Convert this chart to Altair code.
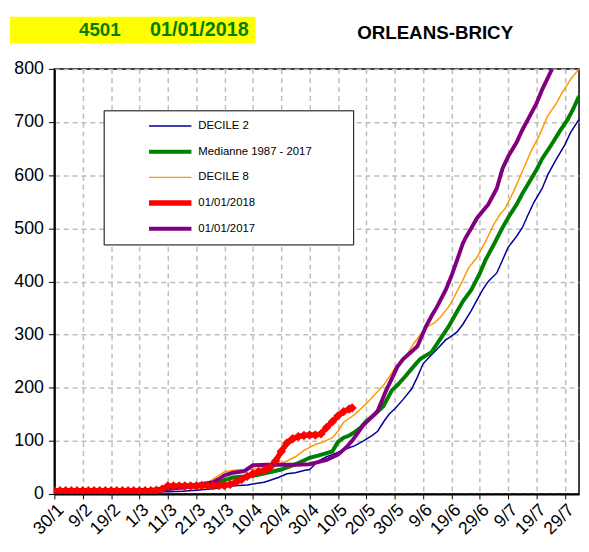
import altair as alt
import pandas as pd

# ---------------- data ----------------
x_labels = ['30/1', '9/2', '19/2', '1/3', '11/3', '21/3', '31/3', '10/4', '20/4',
            '30/4', '10/5', '20/5', '30/5', '9/6', '19/6', '29/6', '9/7', '19/7', '29/7']
x_tick_days = [i * 10 for i in range(len(x_labels))]
y_ticks = [0, 100, 200, 300, 400, 500, 600, 700, 800]

series_names = ['DECILE 2', 'Medianne 1987 - 2017', 'DECILE 8', '01/01/2018', '01/01/2017']
series_colors = ['#000099', '#008000', '#ff9900', '#ff0000', '#800080']
series_widths = [1.5, 4, 1.5, 5.5, 4]

banner_texts = ['4501', '01/01/2018']
station_name = 'ORLEANS-BRICY'

# DECILE 2
d2_days = [0, 10, 20, 30, 40, 45, 50, 56, 62, 68, 74, 79, 82, 85, 88, 90, 93, 96, 98, 103, 106,
           109, 112, 114, 116, 118, 120, 123, 126, 128, 130, 133, 135, 138, 140, 142, 144, 147,
           149, 151, 153, 156, 158, 160, 163, 165, 167, 169, 172, 174, 177, 180, 182, 185]
d2_vals = [1, 1, 2, 3, 4, 5, 7, 10, 15, 17, 22, 31, 38, 40, 44, 46, 62, 70, 74, 85, 91,
           100, 110, 118, 135, 150, 160, 178, 198, 220, 245, 262, 273, 290, 297, 305, 319, 345,
           365, 384, 400, 416, 440, 464, 485, 501, 525, 548, 575, 601, 630, 657, 680, 705]

# Medianne 1987 - 2017
med_days = [0, 10, 20, 30, 40, 45, 50, 55, 58, 60, 63, 67, 71, 75, 80, 83, 86, 90, 93, 96, 98,
            100, 102, 104, 106, 108, 110, 113, 116, 119, 121, 124, 127, 129, 133, 136, 139, 141,
            144, 147, 150, 152, 155, 158, 160, 163, 165, 167, 170, 172, 175, 178, 181, 183, 185]
med_vals = [3, 3, 4, 6, 10, 12, 15, 18, 22, 26, 31, 33, 35, 40, 46, 52, 58, 68, 72, 77, 80,
            98, 106, 110, 117, 125, 137, 150, 165, 195, 205, 223, 242, 254, 267, 291, 315, 334,
            362, 384, 415, 440, 470, 501, 520, 545, 565, 583, 610, 631, 655, 681, 705, 725, 749]

# DECILE 8
d8_days = [0, 10, 20, 30, 40, 45, 50, 53, 56, 58, 60, 64, 68, 72, 76, 79, 82, 85, 88, 92, 95,
           98, 100, 102, 106, 110, 114, 116, 118, 120, 122, 124, 127, 131, 134, 136, 139, 141,
           144, 146, 149, 152, 155, 157, 159, 162, 165, 168, 171, 174, 177, 179, 182, 185]
d8_vals = [5, 5, 6, 8, 12, 14, 16, 17, 28, 35, 42, 45, 46, 48, 52, 56, 62, 70, 82, 93, 98,
           106, 118, 135, 150, 170, 193, 204, 220, 236, 248, 260, 285, 313, 322, 332, 352, 371,
           402, 425, 445, 475, 508, 525, 538, 570, 607, 644, 675, 712, 735, 755, 780, 800]

# 01/01/2018
y18_days = [0, 2, 4, 6, 8, 10, 12, 14, 16, 18, 20, 22, 24, 26, 28, 30, 32, 34, 36, 38, 40, 42,
            44, 46, 48, 50, 52, 54, 56, 58, 60, 62, 64, 66, 68, 70, 72, 74, 76, 78, 80, 82, 84,
            86, 88, 90, 92, 94, 96, 98, 100, 102, 104, 105]
y18_vals = [6, 6, 6, 6, 6, 6, 6, 6, 6, 6, 6, 6, 6, 6, 6, 6, 6, 6, 7, 9, 15, 15,
            15, 15, 15, 15, 16, 16, 16, 16, 16, 18, 22, 27, 33, 38, 42, 44, 50, 62, 80, 96, 104,
            108, 110, 111, 111, 113, 125, 136, 147, 155, 160, 162]

# 01/01/2017
y17_days = [0, 15, 20, 30, 39, 45, 50, 56, 58, 60, 63, 67, 70, 75, 80, 85, 90, 93, 96, 100,
            103, 105, 107, 109, 112, 114, 117, 119, 121, 123, 126, 128, 131, 133, 135, 138, 140,
            142, 144, 145, 147, 149, 151, 153, 156, 158, 160, 163, 165, 167, 170, 172, 175.5]
y17_vals = [1, 2, 4, 6, 9, 12, 17, 22, 28, 35, 40, 43, 54, 55, 55, 55, 56, 60, 64, 74,
            88, 100, 115, 130, 145, 156, 195, 217, 240, 254, 268, 278, 315, 335, 353, 384, 410,
            440, 471, 482, 500, 519, 532, 545, 575, 612, 635, 662, 685, 705, 735, 761, 800]

all_days = [d2_days, med_days, d8_days, y18_days, y17_days]
all_vals = [d2_vals, med_vals, d8_vals, y18_vals, y17_vals]

rows = []
for name, days, vals in zip(series_names, all_days, all_vals):
    for d, v in zip(days, vals):
        rows.append({'serie': name, 'jour': d, 'valeur': v})
df = pd.DataFrame(rows)
df_red = df[df['serie'] == '01/01/2018']

FONT = 'Liberation Sans'
label_array = '[' + ','.join("'" + s + "'" for s in x_labels) + ']'
pad_str = '\u00a0' * 11 + '\u200b'

x_axis = alt.Axis(values=x_tick_days, labelExpr=label_array + '[round(datum.value/10)]',
                  labelAngle=-45, labelFontSize=18, labelFont=FONT, labelColor='black',
                  tickSize=5, tickColor='black', domainColor='black', domainWidth=2,
                  grid=True, gridDash=[5, 4], gridColor='#bdbdbd', gridWidth=1.5,
                  title=None, labelPadding=2, labelOverlap=False, labelBound=False)
y_axis = alt.Axis(values=y_ticks, labelFontSize=18, labelFont=FONT, labelColor='black',
                  tickSize=6, tickColor='black', domainColor='black', domainWidth=2,
                  grid=True, gridDash=[5, 4], gridColor='#bdbdbd', gridWidth=1.5,
                  title=None, labelPadding=5, labelOverlap=False)
x_scale = alt.Scale(domain=[0, 185], nice=False, zero=False)
y_scale = alt.Scale(domain=[0, 800], nice=False)

legend = alt.Legend(title=None, orient='none', legendX=50, legendY=42, direction='vertical',
                    symbolType='stroke', symbolSize=1849, symbolOffset=37, labelOffset=4,
                    padding=6, rowPadding=6, clipHeight=20, strokeColor='black',
                    fillColor='white', labelFont=FONT, labelFontSize=11.5, labelColor='black',
                    labelExpr="datum.label + '" + pad_str + "'", labelLimit=400)

lines = alt.Chart(df).mark_line(clip=True).encode(
    x=alt.X('jour:Q', scale=x_scale, axis=x_axis),
    y=alt.Y('valeur:Q', scale=y_scale, axis=y_axis),
    color=alt.Color('serie:N', scale=alt.Scale(domain=series_names, range=series_colors),
                    legend=legend),
    strokeWidth=alt.StrokeWidth('serie:N',
                                scale=alt.Scale(type='ordinal', domain=series_names,
                                                range=series_widths),
                                legend=legend),
    detail='serie:N',
)

red_pts = alt.Chart(df_red).mark_point(shape='diamond', filled=True, color='#ff0000',
                                       size=90, opacity=1, clip=True).encode(
    x=alt.X('jour:Q', scale=x_scale, axis=x_axis),
    y=alt.Y('valeur:Q', scale=y_scale, axis=y_axis))

one = pd.DataFrame({'k': [0]})
banner = alt.Chart(one).mark_rect(color='#ffff00').encode(
    x=alt.value(-45), x2=alt.value(204), y=alt.value(-53), y2=alt.value(-26))
t1 = alt.Chart(one).mark_text(text=banner_texts[0], font=FONT, fontSize=19, fontWeight='bold',
                              color='#008000', align='left', baseline='middle').encode(
    x=alt.value(25), y=alt.value(-39))
t2 = alt.Chart(one).mark_text(text=banner_texts[1], font=FONT, fontSize=20, fontWeight='bold',
                              color='#008000', align='left', baseline='middle').encode(
    x=alt.value(97), y=alt.value(-39))
t3 = alt.Chart(one).mark_text(text=station_name, font=FONT, fontSize=19, fontWeight='bold',
                              color='black', align='left', baseline='middle').encode(
    x=alt.value(307), y=alt.value(-36))

chart = alt.layer(lines, red_pts, banner, t1, t2, t3).properties(
    width=532, height=431,
    autosize=alt.AutoSizeParams(type='none'),
    padding={'left': 47, 'top': 58, 'right': 2, 'bottom': 48},
    background='white',
).configure_view(stroke='black', strokeWidth=1.5
).configure_axis(labelOverlap=False)

chart.save('out.html', embed_options={'renderer': 'svg', 'actions': False})
